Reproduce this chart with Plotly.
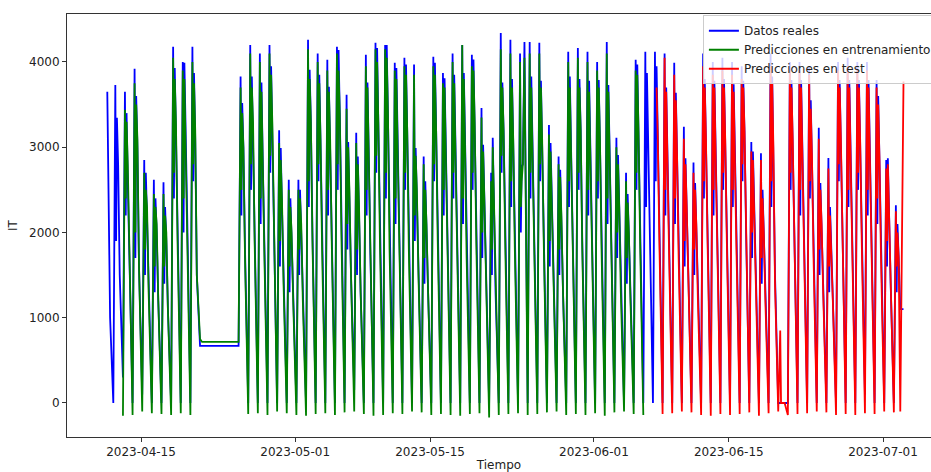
import plotly.graph_objects as go
import pandas as pd

# ---- data (one entry per day, starting 2023-04-11) ----
start_day = "2023-04-11"
slot_hours = [3, 8, 10, 12, 15, 19]  # low, peak, dip, second, dip2, evening

real_low = [None, 0, 300, 0, 100, 0, 0, 0, 0, 0,
            670, 670, 670, 670, 670, 0, 0, 0, 0, 0,
            0, 0, 0, 0, 0, 0, 150, 0, 0, 0,
            0, 0, 0, 0, 0, 0, 0, 0, 0, 0,
            0, 0, 0, 0, 0, 0, 0, 0, 0, 0,
            0, 0, 0, 0, 0, 0, 0, 0, 0, 0,
            0, 0, 0, 0, 0, 0, 0, 0, 0, 0,
            0, 0, 0, 0, 0, 0, 0, 0, 0, 100,
            0, 0, 0, 1100]
real_peak = [None, 3730, 3650, 3920, 2850, 2620, 2590, 4180, 4000, 4180,
             670, 670, 670, 670, 3830, 4200, 4100, 4200, 3200, 2620,
             2620, 4260, 4100, 4025, 4180, 3615, 3170, 4085, 4225, 4200,
             3990, 4050, 3970, 2890, 4060, 3870, 4100, 4200, 4085, 3460,
             2700, 4340, 4260, 4100, 4235, 4225, 3260, 2890, 4120, 4165,
             4120, 4000, 4235, 3110, 2700, 4025, 4120, 4120, 4100, 3990,
             3240, 2820, 4100, 4000, 4050, 4000, 3950, 3060, 2930, 4100,
             0, 4000, 4000, 3950, 3230, 2875, 4000, 4050, 4000, 4000,
             3790, 2850, 2320, None]
real_dip = [None, 1900, 2200, 1700, 1500, 1300, 1400, 2400, 2000, 2600,
            670, 670, 670, 670, 2200, 2500, 2100, 2700, 1600, 1300,
            1500, 2300, 2600, 2200, 2500, 1800, 1500, 2200, 2700, 2400,
            2100, 2500, 1900, 1400, 2600, 2200, 2400, 2100, 2500, 1700,
            1500, 2700, 2300, 2000, 2400, 2600, 1600, 1500, 2300, 2500,
            2200, 2400, 2100, 1700, 1400, 2500, 2300, 2600, 2200, 2100,
            1600, 1500, 2400, 2200, 2500, 2300, 2600, 1700, 1400, 2300,
            0, 2500, 2200, 2400, 1500, 1300, 2600, 2300, 2500, 2200,
            2100, 1600, 1300, None]
real_second = [3650, 3345, 3400, 3600, 2700, 2400, 2300, 3930, 3990, 3870,
               670, 670, 670, 670, 3520, 3830, 3760, 3950, 2990, 2400,
               2500, 3910, 3850, 3710, 4140, 3060, 2890, 3760, 4165, 4200,
               3930, 3970, 2990, 2600, 3990, 3810, 3850, 3870, 4030, 3030,
               3110, 3760, 3800, 2770, 3830, 3780, 3050, 2735, 3830, 3800,
               3780, 3790, 3730, 2910, 2450, 3970, 3870, 3950, 3700, 3640,
               2870, 2580, 3800, 3780, 3800, 3740, 3780, 2950, 2500, 3830,
               0, 3790, 3790, 3550, 2580, 2300, 3790, 3790, 3790, 3790,
               3600, 2870, 2100, None]
real_dip2 = [2500, 2800, 2600, 3000, 2200, 2000, 1900, 3200, 3000, 3100,
             670, 670, 670, 670, 3000, 3200, 2900, 3300, 2300, 1900,
             2000, 3300, 3000, 3100, 3400, 2400, 2200, 3000, 3300, 3400,
             3100, 3200, 2400, 2000, 3200, 3000, 3100, 3000, 3300, 2400,
             2300, 3200, 3100, 2800, 3000, 3100, 2400, 2100, 3000, 3200,
             3000, 3100, 2900, 2300, 1900, 3200, 3000, 3100, 3000, 2900,
             2300, 2000, 3100, 3000, 3100, 3000, 3200, 2300, 2000, 3000,
             0, 3100, 3000, 2900, 2100, 1800, 3100, 3000, 3100, 3000,
             2900, 2200, 1700, None]
real_evening = [1000, 1500, 1800, 1600, 1300, 1200, 1100, 2000, 2200, 1500,
                670, 670, 670, 670, 1800, 2000, 1900, 2100, 1400, 1200,
                1300, 2000, 1900, 2000, 2100, 1500, 1300, 1800, 2000, 1900,
                2000, 1900, 1500, 1300, 2000, 1900, 2000, 1800, 2000, 1500,
                1300, 2000, 1900, 4235, 2000, 2000, 1500, 1300, 2000, 1900,
                2000, 1900, 2000, 1400, 1200, 2000, 1900, 2000, 1900, 1800,
                1400, 1300, 2000, 1900, 2000, 1900, 2000, 1400, 1300, 1500,
                0, 2000, 1900, 1800, 1400, 1300, 2000, 1900, 2000, 1900,
                1800, 1400, 1100, None]

pred_low = [None, None, -150, -140, -100, -120, -130, -140, -120, -140,
            750, 716, 716, 716, 716, -130, -120, -140, -100, -120,
            -140, -150, -130, -120, -140, -110, -100, -130, -150, -140,
            -120, -130, -100, -110, -140, -130, -140, -150, -130, -120,
            -170, -140, -130, -120, -140, -130, -110, -100, -140, -130,
            -140, -120, -150, -110, -100, -130, -140, None, -130, -120,
            -100, -110, -140, -150, -130, -140, -130, -110, -150, -120,
            -100, -140, -130, -120, -100, -110, -140, -130, -140, -120,
            -130, -100, -110, 3770]
pred_peak = [None, None, 3440, 3750, 2700, 2450, 2450, 4050, 3900, 4000,
             716, 716, 716, 716, 3700, 4100, 4000, 4100, 3050, 2500,
             2500, 4150, 4000, 3900, 4100, 3450, 3050, 3950, 4150, 4150,
             3900, 3950, 3850, 2800, 3950, 3750, 4000, 4200, 3950, 3350,
             2600, 4150, 4100, 4000, 4100, 4100, 3150, 2800, 4000, 4050,
             4000, 3900, 4100, 3000, 2600, 3900, None, None, 4050, 3850,
             3100, 2700, 3950, 3850, 3900, 3850, 3800, 2950, 2850, 3950,
             850, 3900, 3900, 3850, 3100, 2750, 3900, 3950, 3900, 3900,
             3700, 2750, 2250, None]
pred_dip = [None, None, 2400, 2000, 1800, 1600, 1600, 2700, 2400, 2800,
            716, 716, 716, 716, 2500, 2800, 2400, 2900, 1900, 1600,
            1800, 2600, 2800, 2500, 2800, 2100, 1800, 2500, 2900, 2700,
            2400, 2700, 2200, 1700, 2800, 2500, 2700, 2400, 2700, 2000,
            1800, 2900, 2600, 2300, 2700, 2800, 1900, 1800, 2600, 2700,
            2500, 2600, 2400, 2000, 1700, 2700, None, None, 2500, 2400,
            1900, 1800, 2600, 2500, 2700, 2500, 2800, 2000, 1700, 2600,
            0, 2700, 2500, 2600, 1800, 1600, 2800, 2500, 2700, 2500,
            2400, 1900, 1600, None]
pred_second = [None, None, 3300, 3500, 2500, 2300, 2200, 3800, 3800, 3750,
               716, 716, 716, 716, 3400, 3700, 3650, 3850, 2850, 2300,
               2400, 3800, 3750, 3650, 3900, 3000, 2800, 3700, 4000, 4050,
               3800, 3850, 2900, 2500, 3850, 3700, 3750, 3800, 3900, 2950,
               3000, 3700, 3700, 2600, 3700, 3700, 2950, 2650, 3700, 3700,
               3650, 3700, 3650, 2800, 2350, 3850, None, 3700, 3650, 3550,
               2800, 2500, 3700, 3700, 3700, 3650, 3700, 2850, 2400, 3750,
               0, 3700, 3700, 3450, 2500, 2200, 3700, 3700, 3700, 3700,
               3500, 2800, 2000, None]
pred_dip2 = [None, None, 2800, 3100, 2300, 2100, 2000, 3300, 3100, 3200,
             716, 716, 716, 716, 3000, 3300, 3000, 3300, 2400, 2000,
             2100, 3300, 3100, 3100, 3400, 2500, 2300, 3000, 3300, 3400,
             3100, 3200, 2500, 2100, 3200, 3000, 3100, 3000, 3300, 2400,
             2400, 3200, 3100, 2800, 3000, 3100, 2400, 2200, 3000, 3200,
             3000, 3100, 2900, 2300, 2000, 3200, None, 3100, 3000, 2900,
             2300, 2100, 3100, 3000, 3100, 3000, 3200, 2300, 2000, 3000,
             0, 3100, 3000, 2900, 2100, 1800, 3100, 3000, 3100, 3000,
             2900, 2200, 1700, None]
pred_evening = [None, None, 1700, 1600, 1300, 1200, 1100, 1900, 2100, 1500,
                716, 716, 716, 716, 1700, 1900, 1800, 2000, 1400, 1200,
                1200, 1900, 1800, 1900, 2000, 1500, 1300, 1700, 1900, 1800,
                1900, 1800, 1500, 1300, 1900, 1800, 1900, 1700, 1900, 1500,
                1300, 1900, 1800, 4050, 1900, 1900, 1400, 1300, 1900, 1800,
                1900, 1800, 1900, 1300, 1200, 1900, None, 1900, 1800, 1700,
                1400, 1200, 1900, 1800, 1900, 1800, 1900, 1400, 1200, 1400,
                0, 1900, 1800, 1700, 1300, 1200, 1900, 1800, 1900, 1800,
                1700, 1300, -100, None]

test_start = "2023-06-07"
x_ticks = ["2023-04-15", "2023-05-01", "2023-05-15", "2023-06-01", "2023-06-15", "2023-07-01"]
y_ticks = [0, 1000, 2000, 3000, 4000]

days = pd.date_range(start_day, periods=len(real_low), freq="D")


def build(arrays):
    xs, ys = [], []
    for i, d in enumerate(days):
        for h, arr in zip(slot_hours, arrays):
            v = arr[i]
            if v is not None:
                xs.append(d + pd.Timedelta(hours=h))
                ys.append(v)
    return xs, ys


rx, ry = build([real_low, real_peak, real_dip, real_second, real_dip2, real_evening])
px, py = build([pred_low, pred_peak, pred_dip, pred_second, pred_dip2, pred_evening])
cut = pd.Timestamp(test_start)
tr_x = [t for t in px if t < cut]
tr_y = [v for t, v in zip(px, py) if t < cut]
te_x = [t for t in px if t >= cut]
te_y = [v for t, v in zip(px, py) if t >= cut]

fig = go.Figure()
fig.add_trace(go.Scatter(x=rx, y=ry, mode="lines", name="Datos reales",
                         line=dict(color="#0000ff", width=1.8)))
fig.add_trace(go.Scatter(x=tr_x, y=tr_y, mode="lines", name="Predicciones en entrenamiento",
                         line=dict(color="#008000", width=1.8)))
fig.add_trace(go.Scatter(x=te_x, y=te_y, mode="lines", name="Predicciones en test",
                         line=dict(color="#ff0000", width=1.8)))

fig.update_layout(
    width=931, height=472,
    margin=dict(l=67, r=0, t=14, b=35, autoexpand=False),
    paper_bgcolor="white", plot_bgcolor="white",
    font=dict(family="DejaVu Sans", size=12, color="#222"),
    showlegend=True,
    legend=dict(x=0.736, y=0.997, xanchor="left", yanchor="top",
                bgcolor="rgba(255,255,255,0.8)", bordercolor="#cccccc", borderwidth=1,
                font=dict(size=12), tracegroupgap=0, itemwidth=30),
    xaxis=dict(range=["2023-04-07 07:40", "2023-07-05 23:30"],
               tickvals=x_ticks, ticktext=x_ticks,
               showline=True, linecolor="#333", linewidth=1, mirror=True,
               ticks="outside", ticklen=4, tickcolor="#333",
               showgrid=False, zeroline=False,
               title=dict(text="Tiempo", standoff=6, font=dict(size=12))),
    yaxis=dict(range=[-399, 4563], tickvals=y_ticks,
               showline=True, linecolor="#333", linewidth=1, mirror=False,
               ticks="outside", ticklen=4, tickcolor="#333",
               showgrid=False, zeroline=False,
               title=dict(text="IT", standoff=8, font=dict(size=12))),
)

fig.write_html("out.html")
